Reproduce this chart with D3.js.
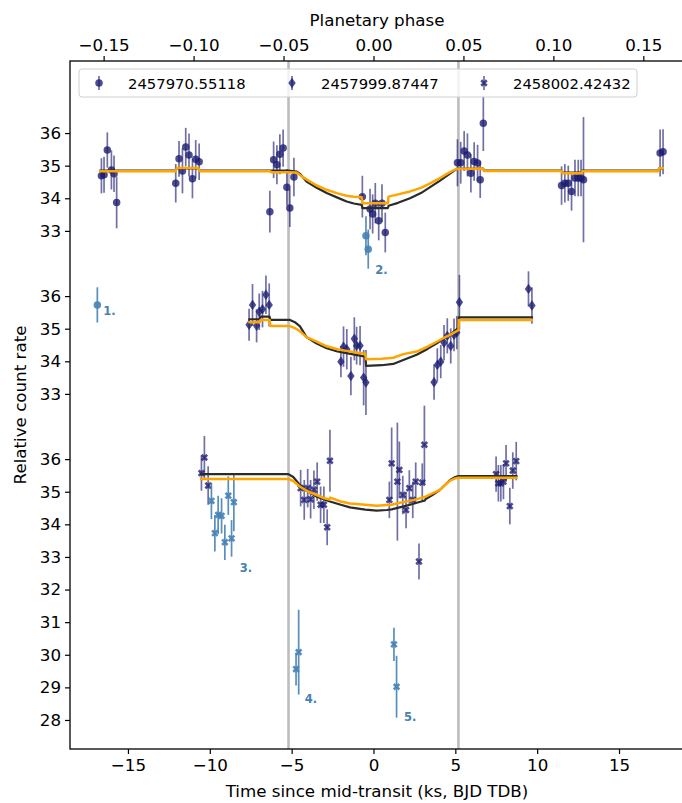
<!DOCTYPE html>
<html><head><meta charset="utf-8">
<script src="https://cdn.jsdelivr.net/npm/d3@7"></script>
<style>body{margin:0;background:#fff;} svg{display:block;font-family:"DejaVu Sans",sans-serif;}</style>
</head><body><svg id="chart" width="682" height="803"></svg>
<script>
// ---------------- DATA ----------------
const visitNames = ["2457970.55118", "2457999.87447", "2458002.42432"];
const visitOffsets = [10, 5, 0];            // vertical offset of each visit on the shared axis
const periodKs = 109.9;                    // orbital period (ks) for the phase axis
const transitEdges = [-5.19, 5.19];        // ks

const xTicks = [-15, -10, -5, 0, 5, 10, 15];
const phaseTicks = [-0.15, -0.10, -0.05, 0.00, 0.05, 0.10, 0.15];
const yTickLabels = [[33, 34, 35, 36], [33, 34, 35, 36], [28, 29, 30, 31, 32, 33, 34, 35, 36]];

// Visit 1 (circles)
const v1Time = [-16.62,-16.46,-16.26,-16.01,-15.85,-15.69,
  -12.08,-11.88,-11.67,-11.47,-11.27,-11.06,-10.86,-10.65,
  -6.33,-6.10,-5.90,-5.72,-5.52,-5.29,-5.11,-4.86,
  -0.68,-0.21,-0.05,0.11,0.32,0.52,0.72,
  5.13,5.33,5.54,5.74,5.95,6.15,6.36,6.52,6.71,
  11.49,11.69,11.90,12.10,12.31,12.51,12.68,12.83,
  17.51,17.69];
const v1Rate = [34.69,34.72,35.48,34.87,34.75,33.87,
  34.46,35.21,34.84,35.57,35.33,34.60,35.20,35.12,
  33.59,35.18,35.03,35.35,35.54,34.34,33.70,34.65,
  34.05,33.67,33.52,33.85,33.31,33.85,32.95,
  35.09,35.09,35.45,35.33,34.77,35.13,35.08,34.57,36.30,
  34.39,34.46,34.46,34.21,34.62,34.62,34.62,34.57,
  35.39,35.43];
const v1Err = [0.54,0.55,0.54,0.60,0.56,0.79,
  0.59,0.55,0.69,0.59,0.66,0.60,0.59,0.56,
  0.64,0.56,0.60,0.61,0.57,0.56,0.58,0.59,
  0.64,0.62,0.60,0.62,0.60,0.58,0.61,
  0.72,0.64,0.61,0.66,0.59,0.59,0.56,0.56,0.85,
  0.59,0.59,0.54,0.59,0.56,0.56,0.56,1.92,
  0.72,0.69];

// Visit 2 (diamonds)
const v2Time = [-7.60,-7.39,-7.14,-6.98,-6.78,-6.57,-6.37,
  -1.99,-1.83,-1.63,-1.38,-1.17,-1.03,-0.82,-0.60,-0.46,
  3.70,3.90,4.11,4.31,4.51,4.72,4.92,5.09,5.25,
  9.47,9.68];
const v2Rate = [35.12,35.73,35.09,35.52,35.60,36.04,35.73,
  33.99,34.45,34.37,33.55,34.69,34.48,34.48,33.50,33.35,
  33.36,33.89,33.99,34.57,34.78,34.47,34.81,34.88,35.81,
  36.22,35.71];
const v2Err = [0.49,0.64,0.51,0.56,0.56,0.59,0.66,
  0.48,0.62,0.62,0.59,0.66,0.58,0.60,0.85,1.00,
  0.54,0.51,0.51,0.54,0.54,0.54,0.50,0.51,0.84,
  0.54,0.56];

// Visit 3 (X markers)
const v3Time = [-10.51,-10.33,-10.10,
  -4.45,-4.23,-4.02,-3.84,-3.64,-3.44,-3.23,-3.03,-2.83,-2.66,
  0.97,1.11,1.46,1.58,1.79,1.99,2.19,2.40,2.58,2.78,2.98,3.11,
  7.49,7.63,7.78,7.94,8.10,8.33,8.51,8.72];
const v3Rate = [35.57,36.05,35.19,
  35.11,34.75,35.11,34.77,35.06,35.31,34.60,34.60,33.91,35.95,
  34.75,35.87,35.31,35.67,34.90,34.44,35.11,34.75,35.31,32.86,35.28,36.44,
  35.54,35.26,35.26,35.31,35.87,34.56,35.65,35.94];
const v3Err = [0.54,0.66,0.59,
  0.56,0.61,0.59,0.59,0.59,0.59,0.56,0.56,0.55,0.95,
  0.56,1.10,1.81,0.87,0.59,0.56,0.55,0.56,0.59,0.55,0.59,1.20,
  0.54,0.56,0.56,0.54,0.56,0.56,0.56,0.59];

// Excluded points (numbered)
const outlierLabels = ["1.", "2.", "3.", "4.", "5."];
const outlierVisit = [0, 0, 2, 2, 2];
const outlierTime = [[-16.87], [-0.46, -0.32],
  [-9.90,-9.69,-9.49,-9.28,-9.08,-8.87,-8.67,-8.53], [-4.73,-4.57], [1.25,1.41]];
const outlierRate = [[30.73], [32.85, 32.44],
  [34.72,33.73,34.29,34.26,33.45,34.88,33.57,34.68], [29.56,30.08], [30.32,29.02]];
const outlierErr = [[0.54], [0.60, 0.60],
  [0.56,0.56,0.59,0.54,0.54,0.59,0.56,0.89], [0.50,1.30], [0.51,0.95]];

// Model curves [time ks, rate]
const v1ModelBlack = [[-16.75,34.85],[-12.1,34.85],[-12.0,34.92],[-10.7,34.92],[-10.6,34.85],[-5.2,34.85],[-4.7,34.82],
  [-4.49,34.75],[-4.09,34.51],[-3.5,34.33],[-2.86,34.16],[-2.2,34.02],[-1.64,33.90],[-1.2,33.84],[-0.72,33.80],
  [-0.68,33.70],[0.88,33.70],[0.92,33.77],[1.5,33.86],[2.23,34.00],[2.9,34.16],[3.46,34.34],[4.0,34.52],[4.48,34.69],
  [4.85,34.82],[5.1,34.90],[6.7,34.91],[6.75,34.85],[11.5,34.85],[11.55,34.79],[12.7,34.79],[12.75,34.85],
  [17.4,34.85],[17.45,34.92],[17.75,34.92]];
const v1ModelOrange = [[-16.75,34.83],[-12.1,34.83],[-12.0,34.93],[-10.7,34.93],[-10.6,34.83],[-6.3,34.83],[-6.25,34.80],
  [-5.2,34.80],[-4.7,34.79],[-4.4,34.68],[-4.09,34.58],[-3.5,34.40],[-2.86,34.26],[-2.2,34.15],[-1.64,34.08],
  [-1.2,34.05],[-0.72,34.03],[-0.68,33.85],[0.88,33.85],[0.92,34.05],[1.5,34.12],[2.23,34.21],[2.9,34.32],
  [3.46,34.46],[4.0,34.60],[4.48,34.75],[4.85,34.85],[5.1,34.90],[6.7,34.91],[6.75,34.84],[11.5,34.84],
  [11.55,34.77],[12.7,34.77],[12.75,34.83],[17.4,34.83],[17.45,34.92],[17.75,34.92]];
const v2ModelBlack = [[-7.65,35.29],[-6.95,35.29],[-6.9,35.37],[-6.35,35.37],[-6.3,35.27],[-5.1,35.27],[-4.8,35.20],
  [-4.49,35.07],[-4.09,34.74],[-3.5,34.55],[-2.86,34.40],[-2.2,34.30],[-1.64,34.25],[-1.0,34.19],[-0.5,34.14],
  [-0.45,33.86],[0.5,33.88],[1.21,33.92],[1.82,34.04],[2.64,34.20],[3.3,34.38],[3.87,34.55],[4.3,34.70],
  [4.68,34.81],[5.0,34.95],[5.19,35.02],[5.22,35.35],[9.75,35.35]];
const v2ModelOrange = [[-7.65,35.20],[-6.95,35.20],[-6.9,35.27],[-6.35,35.27],[-6.3,35.08],[-5.1,35.08],[-4.8,35.02],
  [-4.49,34.92],[-4.09,34.74],[-3.5,34.61],[-2.86,34.46],[-2.2,34.37],[-1.64,34.32],[-1.0,34.26],[-0.5,34.23],
  [-0.45,34.06],[0.5,34.08],[1.21,34.11],[1.82,34.22],[2.64,34.30],[3.3,34.45],[3.87,34.60],[4.3,34.72],
  [4.68,34.81],[5.0,34.90],[5.19,34.96],[5.22,35.27],[9.75,35.27]];
const v3ModelBlack = [[-10.6,35.54],[-5.2,35.54],[-4.9,35.45],[-4.5,35.21],[-3.97,35.00],[-3.47,34.85],[-3.0,34.76],
  [-2.66,34.70],[-2.0,34.60],[-1.44,34.52],[-0.5,34.45],[0.2,34.42],[0.81,34.44],[1.11,34.46],[1.6,34.52],
  [2.23,34.60],[2.7,34.67],[3.15,34.73],[3.17,34.77],[3.6,34.90],[4.07,35.06],[4.4,35.22],[4.68,35.36],
  [5.0,35.45],[5.19,35.48],[8.8,35.48]];
const v3ModelOrange = [[-10.6,35.39],[-5.2,35.39],[-4.9,35.33],[-4.5,35.16],[-3.97,35.00],[-3.47,34.90],[-3.0,34.80],
  [-2.68,34.76],[-2.64,34.82],[-2.0,34.70],[-1.44,34.64],[-0.5,34.60],[0.2,34.57],[0.81,34.59],[1.11,34.60],
  [1.6,34.66],[2.23,34.72],[2.7,34.78],[3.15,34.84],[3.6,34.95],[4.07,35.06],[4.4,35.22],[4.68,35.34],
  [5.0,35.41],[5.19,35.43],[8.8,35.43]];

// ---------------- DRAWING ----------------
const svg = d3.select("#chart");
const FONT = 16.7;
const pL = 70, pR = 684, pT = 61, pB = 749;
const x = d3.scaleLinear().domain([-18.54, 18.97]).range([pL, pR]);
const y = d3.scaleLinear().domain([27.11, 48.21]).range([pB, pT]);
const phase = d3.scaleLinear().domain(x.domain().map(t => t / periodKs)).range([pL, pR]);

const navy = "#191970", steel = "#4682b4";

// transit edge lines
svg.append("g").selectAll("line").data(transitEdges).join("line")
  .attr("x1", d => x(d)).attr("x2", d => x(d)).attr("y1", pT).attr("y2", pB)
  .attr("stroke", "#bdbdbd").attr("stroke-width", 2.6);

// marker generators
const shapes = [
  d3.symbol(d3.symbolCircle, 44)(),
  "M0,-5.2L3.7,0L0,5.2L-3.7,0Z",
  d3.symbol(d3.symbolCross, 34)()
];
const shapeRot = [0, 0, 45];

function drawSet(pts, shapeIdx, color, barOpacity, markOpacity) {
  const g = svg.append("g");
  g.selectAll("line").data(pts).join("line")
    .attr("x1", d => x(d.t)).attr("x2", d => x(d.t))
    .attr("y1", d => y(d.r - d.e)).attr("y2", d => y(d.r + d.e))
    .attr("stroke", color).attr("stroke-width", 1.7).attr("stroke-opacity", barOpacity);
  g.selectAll("path").data(pts).join("path")
    .attr("d", shapes[shapeIdx])
    .attr("transform", d => `translate(${x(d.t)},${y(d.r)}) rotate(${shapeRot[shapeIdx]})`)
    .attr("fill", color).attr("fill-opacity", markOpacity);
}

const visits = [[v1Time, v1Rate, v1Err], [v2Time, v2Rate, v2Err], [v3Time, v3Rate, v3Err]];
visits.forEach(([T, R, E], vi) => {
  const pts = T.map((t, i) => ({t, r: R[i] + visitOffsets[vi], e: E[i]}));
  drawSet(pts, vi, navy, 0.62, 0.78);
});

// outliers + labels
const labelOffsets = [[6, -12], [7, 1], [6, 8], [6, 4], [7.5, -1]];
outlierTime.forEach((T, k) => {
  const vi = outlierVisit[k];
  const pts = T.map((t, i) => ({t, r: outlierRate[k][i] + visitOffsets[vi], e: outlierErr[k][i]}));
  drawSet(pts, vi, steel, 0.9, 0.9);
  const lastX = x(pts[pts.length - 1].t);
  const lowY = d3.max(pts, d => y(d.r - d.e));
  svg.append("text").text(outlierLabels[k])
    .attr("x", lastX + labelOffsets[k][0]).attr("y", lowY + labelOffsets[k][1])
    .attr("dominant-baseline", "central")
    .attr("font-size", 11.5).attr("font-weight", "bold").attr("fill", steel);
});

// models
const line = d3.line().x(d => x(d[0])).y(d => y(d[1]));
[[v1ModelBlack, 0], [v2ModelBlack, 1], [v3ModelBlack, 2]].forEach(([m, vi]) => {
  svg.append("path").attr("d", line(m.map(p => [p[0], p[1] + visitOffsets[vi]])))
    .attr("fill", "none").attr("stroke", "#2b2b2b").attr("stroke-width", 2.2).attr("stroke-linejoin", "round");
});
[[v1ModelOrange, 0], [v2ModelOrange, 1], [v3ModelOrange, 2]].forEach(([m, vi]) => {
  svg.append("path").attr("d", line(m.map(p => [p[0], p[1] + visitOffsets[vi]])))
    .attr("fill", "none").attr("stroke", "#ffa500").attr("stroke-width", 2.5).attr("stroke-linejoin", "round");
});

// axes
function styleAxis(g) {
  g.select(".domain").remove();
  g.selectAll(".tick line").attr("stroke", "#000").attr("stroke-width", 1.2);
  g.selectAll(".tick text").attr("font-size", FONT).attr("font-family", "DejaVu Sans").attr("fill", "#000");
}
svg.append("g").attr("transform", `translate(0,${pB})`)
  .call(d3.axisBottom(x).tickValues(xTicks).tickSize(5).tickPadding(5).tickFormat(d3.format("d")))
  .call(styleAxis);
svg.append("g").attr("transform", `translate(0,${pT})`)
  .call(d3.axisTop(phase).tickValues(phaseTicks).tickSize(5).tickPadding(5).tickFormat(d3.format(".2f")))
  .call(styleAxis);

const yTickVals = [], yTickText = new Map();
yTickLabels.forEach((labs, vi) => labs.forEach(l => { yTickVals.push(l + visitOffsets[vi]); yTickText.set(l + visitOffsets[vi], String(l)); }));
svg.append("g").attr("transform", `translate(${pL},0)`)
  .call(d3.axisLeft(y).tickValues(yTickVals).tickSize(5).tickPadding(4).tickFormat(d => yTickText.get(d)))
  .call(styleAxis);

// spines
svg.append("rect").attr("x", pL).attr("y", pT).attr("width", pR - pL).attr("height", pB - pT)
  .attr("fill", "none").attr("stroke", "#000").attr("stroke-width", 1.3);

// axis labels
svg.append("text").text("Time since mid-transit (ks, BJD TDB)")
  .attr("x", (pL + pR) / 2).attr("y", 797).attr("text-anchor", "middle").attr("font-size", FONT);
svg.append("text").text("Planetary phase")
  .attr("x", (pL + pR) / 2).attr("y", 26).attr("text-anchor", "middle").attr("font-size", FONT);
svg.append("text").text("Relative count rate")
  .attr("transform", `translate(26,${(pT + pB) / 2}) rotate(-90)`).attr("text-anchor", "middle").attr("font-size", FONT);

// legend
const lg = svg.append("g");
lg.append("rect").attr("x", 79).attr("y", 69).attr("width", 558).attr("height", 28).attr("rx", 3)
  .attr("fill", "#fff").attr("fill-opacity", 0.8).attr("stroke", "#d0d0d0").attr("stroke-width", 1);
const legX = [99, 292, 484];
visitNames.forEach((name, vi) => {
  const cx = legX[vi], cy = 83;
  lg.append("line").attr("x1", cx).attr("x2", cx).attr("y1", cy - 7).attr("y2", cy + 7)
    .attr("stroke", navy).attr("stroke-width", 1.7).attr("stroke-opacity", 0.62);
  lg.append("path").attr("d", shapes[vi]).attr("transform", `translate(${cx},${cy}) rotate(${shapeRot[vi]})`)
    .attr("fill", navy).attr("fill-opacity", 0.78);
  lg.append("text").text(name).attr("x", cx + 29).attr("y", cy).attr("dominant-baseline", "central")
    .attr("font-size", 14.8);
});
</script></body></html>
